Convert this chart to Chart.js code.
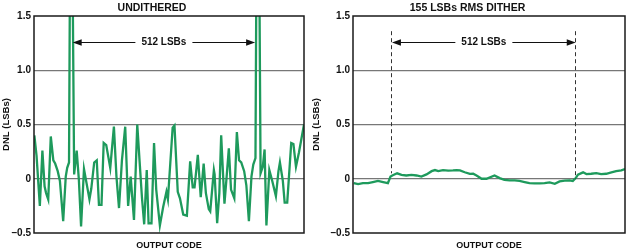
<!DOCTYPE html>
<html>
<head>
<meta charset="utf-8">
<script src="https://cdn.jsdelivr.net/npm/chart.js@4/dist/chart.umd.min.js"></script>
<style>
  html, body { margin: 0; padding: 0; background: #fff; }
  #left  { position: absolute; left: 0;     top: 0; width: 310px; height: 251px; }
  #right { position: absolute; left: 310px; top: 0; width: 316px; height: 251px; }
</style>
</head>
<body>
<div id="left"><canvas id="undithered"></canvas></div>
<div id="right"><canvas id="dithered"></canvas></div>
<script>
// Output codes (x) and DNL in LSBs (y), undithered converter
var Und_Codes = [1,7,16,23,29,33,39,46,53,58,65,71,80,87,91,96,99,105,110,117,123,129,137,144,152,157,165,172,178,185,191,198,209,219,226,233,241,250,258,265,274,283,290,296,302,309,314,322,329,335,345,354,363,367,380,385,394,400,409,419,428,435,440,449,457,465,471,479,483,493,495,502,508,513,522,528,534,540,549,556,562,568,576,582,589,596,601,607,610,617,621,627,632,637,645,653,663,670,674,682,687,694,701,705,711,718,726,740];
var Und_DNL = [0.40,0.21,-0.25,0.26,-0.07,-0.13,-0.19,0.39,0.17,0.14,0.07,-0.02,-0.39,0.02,0.10,0.15,2.2,2.2,0.04,0.26,-0.01,-0.44,0.09,-0.04,-0.19,-0.09,0.15,0.17,-0.24,-0.24,0.33,0.31,0.10,0.48,0.02,-0.27,0.17,0.48,-0.25,0.02,-0.38,0.50,0.13,-0.18,-0.42,0.08,-0.41,-0.41,0.33,-0.10,-0.43,-0.26,-0.12,-0.19,0.47,0.49,-0.12,-0.18,-0.33,-0.34,0.16,-0.08,-0.08,0.22,-0.17,0.14,-0.13,-0.28,-0.30,0.08,0.04,-0.41,-0.13,0.40,-0.23,0.02,0.28,-0.10,-0.18,0.43,0.17,0.15,0.07,-0.06,-0.39,0.02,0.13,0.19,2.2,2.2,0.05,0.11,0.27,-0.43,0.08,-0.02,-0.16,0.07,0.15,-0.02,-0.22,-0.22,0.13,0.33,0.32,0.11,0.24,0.50];

// Output codes (x) and DNL in LSBs (y), with 155 LSBs rms dither
var Dit_Codes = [2,14,27,41,54,68,82,95,102,107,120,132,145,159,173,186,200,214,223,232,245,259,272,282,291,304,318,327,336,350,363,385,399,412,426,440,453,467,480,494,508,521,535,549,562,576,589,598,606,612,626,635,648,662,675,689,703,716,730,740];
var Dit_DNL = [-0.04,-0.05,-0.04,-0.04,-0.03,-0.02,-0.03,-0.04,0.02,0.03,0.05,0.035,0.03,0.035,0.03,0.02,0.04,0.07,0.08,0.07,0.08,0.075,0.077,0.08,0.077,0.06,0.045,0.046,0.03,0,0,0.03,0.006,-0.01,-0.015,-0.015,-0.02,-0.03,-0.04,-0.043,-0.043,-0.04,-0.034,-0.046,-0.025,-0.018,-0.015,-0.02,0.006,0.037,0.059,0.043,0.046,0.052,0.043,0.046,0.059,0.071,0.077,0.09];

var Y_Ticks = [-0.5, 0, 0.5, 1.0, 1.5];
// the 512 LSB span marked on both plots
var Span_Codes = [106, 606];
var Span_Label = "512 LSBs";

Chart.defaults.font.family = '"Liberation Sans", Arial, Helvetica, sans-serif';
Chart.defaults.color = '#111';

function points(xs, ys) {
  return xs.map(function (x, i) { return { x: x, y: ys[i] }; });
}

function arrowHead(ctx, xTip, y, dir) {
  ctx.beginPath();
  ctx.moveTo(xTip, y);
  ctx.lineTo(xTip + dir * 9, y - 3.2);
  ctx.lineTo(xTip + dir * 9, y + 3.2);
  ctx.closePath();
  ctx.fill();
}

// frame, span arrow, optional dashed markers
var spanPlugin = {
  id: 'span',
  afterDatasetsDraw: function (chart, args, opts) {
    var ctx = chart.ctx, xs = chart.scales.x, ys = chart.scales.y, a = chart.chartArea;
    ctx.save();
    ctx.strokeStyle = '#1a1a1a';
    ctx.lineWidth = 1.5;
    ctx.strokeRect(a.left, a.top, a.right - a.left, a.bottom - a.top);

    if (opts.dashed) {
      ctx.strokeStyle = '#333';
      ctx.lineWidth = 1;
      ctx.setLineDash([4, 3]);
      opts.dashed.forEach(function (d) {
        var px = Math.round(xs.getPixelForValue(d[0])) + 0.5;
        ctx.beginPath();
        ctx.moveTo(px, ys.getPixelForValue(1.36));
        ctx.lineTo(px, ys.getPixelForValue(d[1]));
        ctx.stroke();
      });
      ctx.setLineDash([]);
    }

    var x1 = xs.getPixelForValue(Span_Codes[0]);
    var x2 = xs.getPixelForValue(Span_Codes[1]);
    var yy = Math.round(ys.getPixelForValue(1.26)) + 0.5;
    ctx.font = 'bold 10px "Liberation Sans", Arial, sans-serif';
    var xm = (x1 + x2) / 2;
    var half = ctx.measureText(Span_Label).width / 2 + 6;
    ctx.strokeStyle = '#111';
    ctx.fillStyle = '#111';
    ctx.lineWidth = 1.2;
    ctx.beginPath();
    ctx.moveTo(x1 + 8, yy); ctx.lineTo(xm - half, yy);
    ctx.moveTo(xm + half, yy); ctx.lineTo(x2 - 8, yy);
    ctx.stroke();
    arrowHead(ctx, x1, yy, 1);
    arrowHead(ctx, x2, yy, -1);
    ctx.textAlign = 'center';
    ctx.textBaseline = 'middle';
    ctx.fillText(Span_Label, xm, yy);
    ctx.restore();
  }
};

function makeChart(id, title, xs, ys, yWidth, padRight, dashed) {
  return new Chart(document.getElementById(id), {
    type: 'line',
    data: {
      datasets: [{
        data: points(xs, ys),
        borderColor: '#1e9a5c',
        borderWidth: 2.3,
        pointRadius: 0,
        tension: 0,
        fill: false
      }]
    },
    options: {
      responsive: true,
      maintainAspectRatio: false,
      animation: false,
      layout: { padding: { left: 0, right: padRight, top: 0, bottom: 0 } },
      plugins: {
        legend: { display: false },
        tooltip: { enabled: false },
        title: {
          display: true,
          text: title,
          font: { size: 10.5, weight: 'bold' },
          color: '#111',
          padding: { top: 1.5, bottom: 1.9 }
        },
        span: { dashed: dashed }
      },
      scales: {
        x: {
          type: 'linear',
          min: 0,
          max: 740,
          grid: { display: false },
          border: { display: false },
          ticks: { display: false },
          title: {
            display: true,
            text: 'OUTPUT CODE',
            font: { size: 9, weight: 'bold' },
            padding: { top: 0, bottom: 0 }
          },
          afterFit: function (s) { s.height = 18; }
        },
        y: {
          min: -0.5,
          max: 1.5,
          afterBuildTicks: function (s) {
            s.ticks = Y_Ticks.map(function (v) { return { value: v }; });
          },
          grid: {
            drawTicks: false,
            lineWidth: 1.2,
            color: function (c) {
              var v = c.tick && c.tick.value;
              return (v === 1.5 || v === -0.5) ? 'rgba(0,0,0,0)' : '#777';
            }
          },
          border: { display: false },
          ticks: {
            padding: 3,
            font: { size: 10, weight: 'bold' },
            callback: function (v) {
              if (v === 0) return '0';
              return (v < 0 ? '\u2013' : '') + Math.abs(v).toFixed(1);
            }
          },
          title: {
            display: true,
            text: 'DNL (LSBs)',
            font: { size: 9.5, weight: 'bold' },
            padding: { top: 1, bottom: 0 }
          },
          afterFit: function (s) { s.width = yWidth; }
        }
      }
    },
    plugins: [spanPlugin]
  });
}

var UnditheredChart = makeChart('undithered', 'UNDITHERED', Und_Codes, Und_DNL, 34, 6, null);
var DitheredChart = makeChart('dithered', '155 LSBs RMS DITHER', Dit_Codes, Dit_DNL, 43, 1,
  [[104.6, 0.05], [604, 0.0]]);
</script>
</body>
</html>
